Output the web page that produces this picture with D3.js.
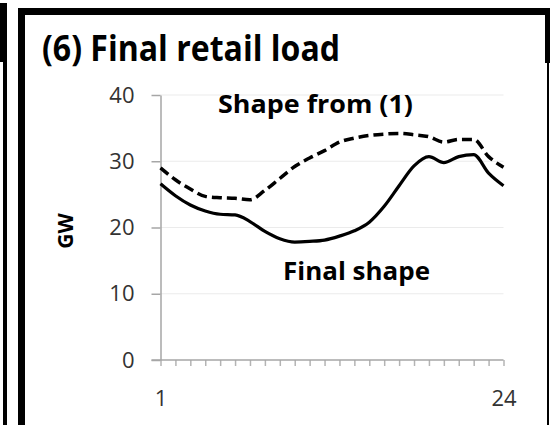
<!DOCTYPE html>
<html>
<head>
<meta charset="utf-8">
<script src="https://cdn.jsdelivr.net/npm/d3@7/dist/d3.min.js"></script>
<style>
  html, body { margin: 0; padding: 0; background: #fff; }
  svg { display: block; }
</style>
</head>
<body>
<div id="chart"></div>
<script>
// ---- data ----
const hours = d3.range(1, 25);
const finalShape = [26.6, 24.8, 23.4, 22.5, 22.0, 21.9, 20.9, 19.4, 18.3, 17.8, 17.9, 18.1,
                    18.7, 19.5, 20.8, 23.2, 26.3, 29.3, 30.7, 29.8, 30.7, 31.0, 28.2, 26.3];
const shapeFrom1 = [29.0, 27.2, 25.8, 24.7, 24.5, 24.4, 24.2, 25.6, 27.4, 29.2, 30.5, 31.6,
                    32.9, 33.5, 33.9, 34.1, 34.2, 34.0, 33.7, 32.9, 33.3, 33.3, 30.7, 29.1];
const yTicks = [0, 10, 20, 30, 40];
const xLabelled = [1, 24];
const title = "(6) Final retail load";
const yTitle = "GW";
const label1 = "Shape from (1)";
const label2 = "Final shape";

// ---- layout ----
const W = 550, H = 425;
const svg = d3.select("#chart").append("svg").attr("width", W).attr("height", H);

// frame borders (panel edges)
const frame = svg.append("g").attr("fill", "#000");
frame.append("rect").attr("x", 0).attr("y", 3).attr("width", 7).attr("height", 59);
frame.append("rect").attr("x", 3).attr("y", 62).attr("width", 4).attr("height", H - 62);
frame.append("rect").attr("x", 18).attr("y", 8).attr("width", 7).attr("height", H - 8);
frame.append("rect").attr("x", 18).attr("y", 8).attr("width", W - 18).attr("height", 7);
frame.append("rect").attr("x", 545).attr("y", 8).attr("width", 5).attr("height", 55);
frame.append("rect").attr("x", 547).attr("y", 62).attr("width", 2).attr("height", H - 62);

const x = d3.scaleLinear().domain([1, 24]).range([160.5, 503.5]);
const y = d3.scaleLinear().domain([0, 40]).range([360, 95]);

// gridlines
svg.append("g").selectAll("line").data(yTicks.filter(d => d > 0)).join("line")
  .attr("x1", x(1)).attr("x2", x(24))
  .attr("y1", d => y(d)).attr("y2", d => y(d))
  .attr("stroke", "#ebebeb").attr("stroke-width", 1);

// y axis
const yAxis = d3.axisLeft(y).tickValues(yTicks).tickSize(9).tickPadding(17).tickSizeOuter(0);
const gy = svg.append("g").attr("transform", `translate(${x(1)},0)`).call(yAxis);
gy.select(".domain").attr("stroke", "#a6a6a6").attr("stroke-width", 1.5);
gy.selectAll(".tick line").attr("stroke", "#a6a6a6").attr("stroke-width", 1.5);
gy.selectAll(".tick text").attr("font-family", "'Open Sans', sans-serif")
  .attr("font-size", 22).attr("fill", "#333");

// x axis
const xAxis = d3.axisBottom(x).tickValues(hours).tickSize(6).tickPadding(24).tickSizeOuter(0)
  .tickFormat(d => xLabelled.includes(d) ? String(d) : "");
const gx = svg.append("g").attr("transform", `translate(0,${y(0)})`).call(xAxis);
gx.select(".domain").remove();
gx.append("line").attr("x1", x(1) - 9).attr("x2", x(24)).attr("y1", 0).attr("y2", 0)
  .attr("stroke", "#a6a6a6").attr("stroke-width", 1.5);
gx.selectAll(".tick line").attr("stroke", "#b4b4b4").attr("stroke-width", 1.5);
gx.selectAll(".tick text").attr("font-family", "'Open Sans', sans-serif")
  .attr("font-size", 22).attr("fill", "#333");

// lines
const line = d3.line().x((d, i) => x(hours[i])).y(d => y(d)).curve(d3.curveMonotoneX);
svg.append("path").datum(shapeFrom1).attr("d", line)
  .attr("fill", "none").attr("stroke", "#000").attr("stroke-width", 3.5)
  .attr("stroke-dasharray", "10,5");
svg.append("path").datum(finalShape).attr("d", line)
  .attr("fill", "none").attr("stroke", "#000").attr("stroke-width", 3.2);

// texts
const bold = "'Open Sans', sans-serif";
svg.append("text").attr("x", 42).attr("y", 61).text(title)
  .attr("font-family", bold).attr("font-weight", 700).attr("font-size", 36)
  .attr("textLength", 298).attr("lengthAdjust", "spacingAndGlyphs");
svg.append("text").attr("x", 218).attr("y", 113).text(label1)
  .attr("font-family", bold).attr("font-weight", 700).attr("font-size", 25)
  .attr("textLength", 195).attr("lengthAdjust", "spacingAndGlyphs");
svg.append("text").attr("x", 283).attr("y", 280).text(label2)
  .attr("font-family", bold).attr("font-weight", 700).attr("font-size", 25)
  .attr("textLength", 147).attr("lengthAdjust", "spacingAndGlyphs");
svg.append("text").attr("transform", "translate(73,231) rotate(-90)")
  .attr("text-anchor", "middle").text(yTitle)
  .attr("font-family", bold).attr("font-weight", 700).attr("font-size", 21);
</script>
</body>
</html>
